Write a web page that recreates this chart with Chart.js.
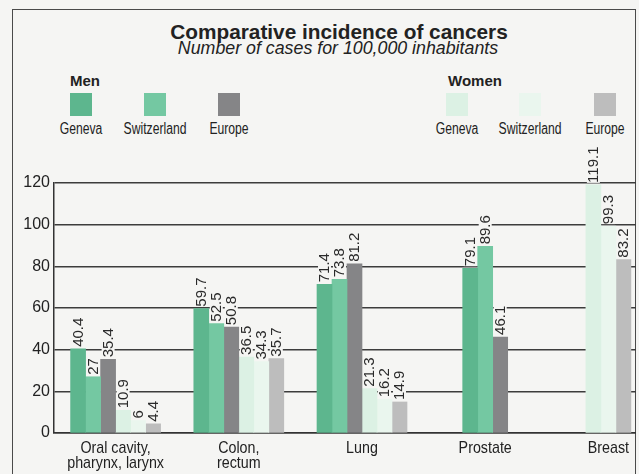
<!DOCTYPE html>
<html>
<head>
<meta charset="utf-8">
<title>Comparative incidence of cancers</title>
<script src="https://cdn.jsdelivr.net/npm/chart.js@4/dist/chart.umd.min.js"></script>
<style>
	html, body { margin: 0; padding: 0; }
	body { width: 639px; height: 474px; background: #f5f5f3; position: relative; overflow: hidden;
		font-family: "Liberation Sans", Arial, sans-serif; color: #222; }
	#frame { position: absolute; left: 12px; top: 9px; width: 622px; height: 480px;
		border-top: 1.5px solid #4a4a4a; border-left: 1.5px solid #4a4a4a; border-right: 1.5px solid #4a4a4a; }
	.txt { position: absolute; white-space: nowrap; line-height: 1; }
	.mid { transform: translateX(-50%); }
	.narrow { transform: translateX(-50%) scaleX(0.76); }
	#title { left: 339px; top: 22px; font-size: 20.8px; font-weight: bold; }
	#subtitle { left: 338px; top: 40px; font-size: 17.8px; font-style: italic; }
	.group { top: 73px; font-size: 15px; font-weight: bold; }
	.name { top: 121px; font-size: 16px; }
	.swatch { position: absolute; top: 93px; width: 22px; height: 23px; }
	#plot { position: absolute; left: 0; top: 140px; width: 636px; height: 334px; overflow: hidden; }
	#plot_inner { position: relative; width: 670px; height: 334px; }
</style>
</head>
<body>
<div id="frame"></div>
<div id="title" class="txt mid">Comparative incidence of cancers</div>
<div id="subtitle" class="txt mid">Number of cases for 100,000 inhabitants</div>
<div id="legend"></div>
<div id="plot"><div id="plot_inner"><canvas id="barChart"></canvas></div></div>

<script>
//======================================================================================================
// Data: cases per 100,000 inhabitants
//======================================================================================================
var categories       = [['Oral cavity,', 'pharynx, larynx'], ['Colon,', 'rectum'], 'Lung', 'Prostate', 'Breast'];
var seriesNames      = ['Geneva', 'Switzerland', 'Europe'];
var menGeneva        = [40.4, 59.7, 71.4, 79.1, null];
var menSwitzerland   = [27,   52.5, 73.8, 89.6, null];
var menEurope        = [35.4, 50.8, 81.2, 46.1, null];
var womenGeneva      = [10.9, 36.5, 21.3, null, 119.1];
var womenSwitzerland = [6,    34.3, 16.2, null, 99.3];
var womenEurope      = [4.4,  35.7, 14.9, null, 83.2];
var yTicks           = [0, 20, 40, 60, 80, 100, 120];

var menColors   = ['#5db68e', '#74c8a2', '#858587'];
var womenColors = ['#dcf1e4', '#eaf6ee', '#bdbdbd'];
var baseFont    = '"Liberation Sans", Arial, sans-serif';
var bgColor     = '#f5f5f3';

//======================================================================================================
// Legend (two groups, swatch above each name)
//======================================================================================================
function Build_Legend()
{
	var groups = [
		{ title: 'Men',   x: 70,  colors: menColors,   centers: [81, 155, 229] },
		{ title: 'Women', x: 448, colors: womenColors, centers: [457, 530, 605] }
	];
	var html = '';
	groups.forEach(function(g) {
		html += '<div class="txt group" style="left:' + g.x + 'px">' + g.title + '</div>';
		seriesNames.forEach(function(name, i) {
			html += '<div class="swatch" style="left:' + (g.centers[i] - 11) + 'px;background:' + g.colors[i] + '"></div>';
			html += '<div class="txt narrow name" style="left:' + g.centers[i] + 'px">' + name + '</div>';
		});
	});
	document.getElementById('legend').innerHTML = html;
}

// Draws the rotated value above every bar, knocking out the grid behind it
var valueLabels = {
	id: 'valueLabels',
	afterDatasetsDraw: function(chart) {
		var ctx = chart.ctx;
		ctx.save();
		ctx.font = '15px ' + baseFont;
		ctx.textBaseline = 'middle';
		ctx.textAlign = 'left';
		chart.data.datasets.forEach(function(ds, di) {
			var meta = chart.getDatasetMeta(di);
			meta.data.forEach(function(bar, i) {
				var v = ds.data[i];
				if (v === null || v === undefined)
					return;
				var txt = String(v);
				var w = ctx.measureText(txt).width;
				ctx.save();
				ctx.translate(bar.x, bar.y - 2);
				ctx.rotate(-Math.PI / 2);
				ctx.fillStyle = bgColor;
				ctx.fillRect(0, -6.5, w + 1, 13);
				ctx.fillStyle = '#2a2a2a';
				ctx.fillText(txt, 0, 0.5);
				ctx.restore();
			});
		});
		ctx.restore();
	}
};

// Category names under the axis, in a narrowed face like the printed original
var categoryLabels = {
	id: 'categoryLabels',
	afterDraw: function(chart) {
		var ctx = chart.ctx;
		var xs = chart.scales.x;
		ctx.save();
		ctx.font = '17px ' + baseFont;
		ctx.fillStyle = '#222';
		ctx.textAlign = 'center';
		ctx.textBaseline = 'alphabetic';
		categories.forEach(function(cat, i) {
			var lines = Array.isArray(cat) ? cat : [cat];
			var x = xs.getPixelForTick(i);
			lines.forEach(function(line, j) {
				ctx.save();
				ctx.translate(x, xs.top + 20 + j * 15);
				ctx.scale(0.84, 1);
				ctx.fillText(line, 0, 0);
				ctx.restore();
			});
		});
		ctx.restore();
	}
};

function Make_Set(label, values, color)
{
	return {
		label          : label,
		data           : values,
		backgroundColor: color,
		borderWidth    : 0,
		barThickness   : 15,
		skipNull       : true
	};
}

function Init_Chart()
{
	Build_Legend();
	new Chart(document.getElementById('barChart'), {
		type: 'bar',
		data: {
			labels  : categories,
			datasets: [
				Make_Set('Men Geneva',         menGeneva,        menColors[0]),
				Make_Set('Men Switzerland',    menSwitzerland,   menColors[1]),
				Make_Set('Men Europe',         menEurope,        menColors[2]),
				Make_Set('Women Geneva',       womenGeneva,      womenColors[0]),
				Make_Set('Women Switzerland',  womenSwitzerland, womenColors[1]),
				Make_Set('Women Europe',       womenEurope,      womenColors[2])
			]
		},
		options: {
			responsive         : true,
			maintainAspectRatio: false,
			animation          : false,
			layout             : { padding: { top: 43, left: 0, right: 0, bottom: 0 } },
			plugins            : { legend: { display: false }, tooltip: { enabled: false } },
			scales: {
				x: {
					offset: true,
					grid  : { display: false },
					border: { display: true, color: '#333', width: 1.5 },
					ticks : { display: false },
					afterFit: function(s) { s.height = 41; }
				},
				y: {
					min   : yTicks[0],
					max   : yTicks[yTicks.length - 1],
					grid  : { color: '#3c3c3c', lineWidth: 1.4, drawTicks: false },
					border: { display: true, color: '#333', width: 1.5 },
					ticks : {
						stepSize: 20, padding: 4, color: '#222',
						font: { family: baseFont, size: 16 }
					},
					afterBuildTicks: function(s) { s.ticks = yTicks.map(function(v) { return { value: v }; }); },
					afterFit: function(s) { s.width = 54; }
				}
			}
		},
		plugins: [valueLabels, categoryLabels]
	});
}

Init_Chart();
</script>
</body>
</html>
